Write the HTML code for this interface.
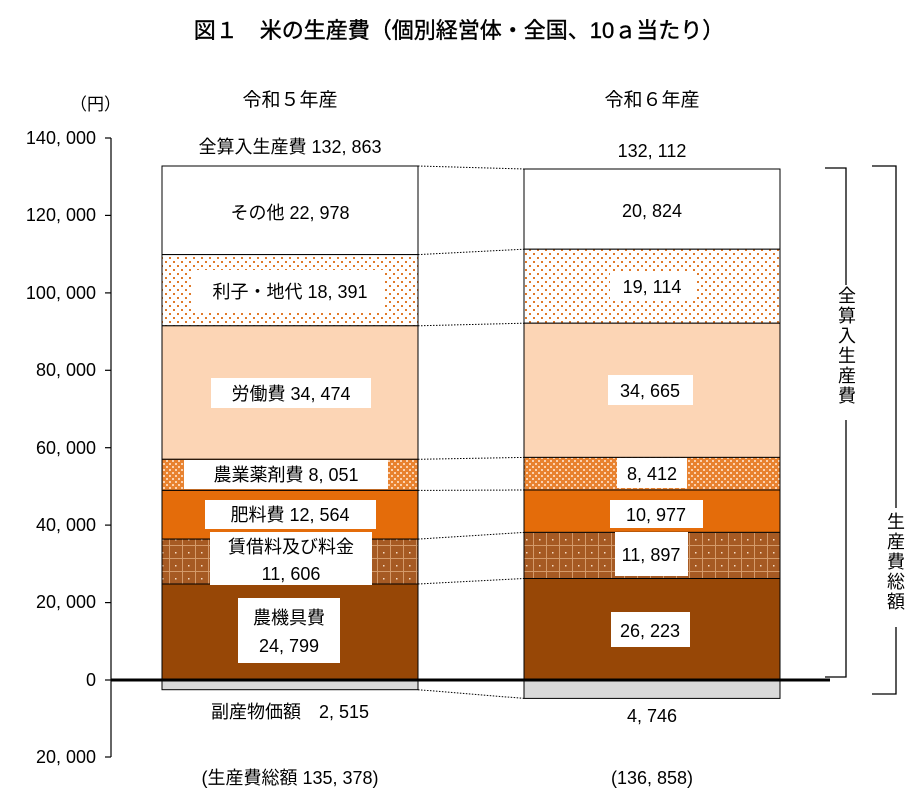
<!DOCTYPE html>
<html><head><meta charset="utf-8"><style>
html,body{margin:0;padding:0;background:#fff;}
svg{display:block;font-family:"Liberation Sans","Noto Sans CJK JP",sans-serif;}
</style></head><body>
<svg width="918" height="793" viewBox="0 0 918 793" xmlns="http://www.w3.org/2000/svg">
<defs>
<pattern id="dots" width="8" height="8" patternUnits="userSpaceOnUse">
<rect width="8" height="8" fill="#fff"/><rect x="1" y="1" width="2" height="2" fill="#e07a2a"/><rect x="5" y="5" width="2" height="2" fill="#e07a2a"/>
</pattern>
<pattern id="chk" width="6" height="6" patternUnits="userSpaceOnUse">
<rect width="6" height="6" fill="#e8822f"/><rect x="1" y="1" width="2" height="2" fill="#fbd2b0"/><rect x="4" y="4" width="2" height="2" fill="#fbd2b0"/>
</pattern>
<pattern id="grid" width="13" height="13" patternUnits="userSpaceOnUse">
<rect width="13" height="13" fill="#a65a23"/><rect x="0" y="0" width="1" height="13" fill="#d49a6a"/><rect x="0" y="12" width="13" height="1" fill="#d49a6a"/><rect x="6" y="6" width="1.5" height="1.5" fill="#f5dcc4"/>
</pattern>
</defs>
<text x="459" y="38" text-anchor="middle" font-size="22" font-weight="normal" fill="#000" stroke="#000" stroke-width="0.4">図１　米の生産費（個別経営体・全国、10ａ当たり）</text>
<text x="70" y="110" font-size="17" fill="#000">（円）</text>
<text x="290" y="106" text-anchor="middle" font-size="19">令和５年産</text>
<text x="652" y="106" text-anchor="middle" font-size="19">令和６年産</text>
<line x1="111" y1="138" x2="111" y2="757" stroke="#000" stroke-width="1.2"/>
<g stroke="#000" stroke-width="1.2">
<line x1="105" y1="138" x2="111" y2="138"/><line x1="105" y1="215.4" x2="111" y2="215.4"/><line x1="105" y1="292.9" x2="111" y2="292.9"/><line x1="105" y1="370.3" x2="111" y2="370.3"/><line x1="105" y1="447.7" x2="111" y2="447.7"/><line x1="105" y1="525.1" x2="111" y2="525.1"/><line x1="105" y1="602.6" x2="111" y2="602.6"/><line x1="105" y1="680" x2="111" y2="680"/><line x1="105" y1="757" x2="111" y2="757"/>
</g>
<g font-size="18" text-anchor="end" fill="#000">
<text x="96" y="144">140, 000</text><text x="96" y="221">120, 000</text><text x="96" y="299">100, 000</text><text x="96" y="376">80, 000</text><text x="96" y="454">60, 000</text><text x="96" y="531">40, 000</text><text x="96" y="608">20, 000</text><text x="96" y="686">0</text><text x="96" y="763">20, 000</text>
</g>
<g stroke="#000" stroke-width="1">
<rect x="162" y="166" width="256" height="88.6" fill="#fff"/>
<rect x="162" y="254.6" width="256" height="71.2" fill="url(#dots)"/>
<rect x="162" y="325.8" width="256" height="133.5" fill="#fcd5b5"/>
<rect x="162" y="459.3" width="256" height="31.1" fill="url(#chk)"/>
<rect x="162" y="490.4" width="256" height="48.7" fill="#e46c0a"/>
<rect x="162" y="539.1" width="256" height="44.9" fill="url(#grid)"/>
<rect x="162" y="584" width="256" height="96" fill="#974706"/>
<rect x="162" y="680" width="256" height="9.7" fill="#d9d9d9"/>
</g>
<g stroke="#000" stroke-width="1">
<rect x="524" y="169" width="256" height="80.2" fill="#fff"/>
<rect x="524" y="249.2" width="256" height="74" fill="url(#dots)"/>
<rect x="524" y="323.2" width="256" height="134.2" fill="#fcd5b5"/>
<rect x="524" y="457.4" width="256" height="32.6" fill="url(#chk)"/>
<rect x="524" y="490" width="256" height="42.4" fill="#e46c0a"/>
<rect x="524" y="532.4" width="256" height="46.1" fill="url(#grid)"/>
<rect x="524" y="578.5" width="256" height="101.5" fill="#974706"/>
<rect x="524" y="680" width="256" height="18.4" fill="#d9d9d9"/>
</g>
<g stroke="#000" stroke-width="1" stroke-dasharray="1.5,1.5">
<line x1="418" y1="166" x2="524" y2="169"/><line x1="418" y1="254.6" x2="524" y2="249.2"/><line x1="418" y1="325.8" x2="524" y2="323.2"/><line x1="418" y1="459.3" x2="524" y2="457.4"/><line x1="418" y1="490.4" x2="524" y2="490"/><line x1="418" y1="539.1" x2="524" y2="532.4"/><line x1="418" y1="584" x2="524" y2="578.5"/><line x1="418" y1="689.7" x2="524" y2="698.4"/>
</g>
<line x1="111" y1="680" x2="830" y2="680" stroke="#000" stroke-width="3"/>
<g fill="#fff">
<rect x="193" y="270" width="190" height="43"/>
<rect x="211" y="378" width="160" height="30"/>
<rect x="184" y="460" width="204" height="29"/>
<rect x="205" y="500" width="171" height="29"/>
<rect x="210" y="532" width="162" height="53"/>
<rect x="238" y="598" width="102" height="65"/>
<rect x="610" y="272" width="85" height="29"/>
<rect x="608" y="375" width="85" height="30"/>
<rect x="617" y="458" width="70" height="30"/>
<rect x="610" y="500" width="93" height="28"/>
<rect x="615" y="532" width="73" height="44"/>
<rect x="611" y="612" width="79" height="35"/>
</g>
<g font-size="18" text-anchor="middle" fill="#000">
<text x="290" y="153">全算入生産費 132, 863</text>
<text x="290" y="219">その他 22, 978</text>
<text x="290" y="298">利子・地代 18, 391</text>
<text x="291" y="400">労働費 34, 474</text>
<text x="286" y="481">農業薬剤費 8, 051</text>
<text x="290" y="521">肥料費 12, 564</text>
<text x="291" y="553">賃借料及び料金</text>
<text x="291" y="580">11, 606</text>
<text x="289" y="624">農機具費</text>
<text x="289" y="652">24, 799</text>
<text x="290" y="718">副産物価額　2, 515</text>
<text x="290" y="784">(生産費総額 135, 378)</text>
<text x="652" y="157">132, 112</text>
<text x="652" y="217">20, 824</text>
<text x="652" y="293">19, 114</text>
<text x="650" y="397">34, 665</text>
<text x="652" y="480">8, 412</text>
<text x="656" y="521">10, 977</text>
<text x="651" y="561">11, 897</text>
<text x="650" y="637">26, 223</text>
<text x="652" y="722">4, 746</text>
<text x="652" y="784">(136, 858)</text>
</g>
<g fill="none" stroke="#000" stroke-width="1.3">
<path d="M825 168 H846 V285 M846 420 V677 H825"/>
<path d="M872 166 H896 V508 M896 627 V694 H872"/>
</g>
<g font-size="18" text-anchor="middle" fill="#000">
<text x="847" y="302">全</text><text x="847" y="322">算</text><text x="847" y="342">入</text><text x="847" y="362">生</text><text x="847" y="382">産</text><text x="847" y="402">費</text>
<text x="896" y="528">生</text><text x="896" y="548">産</text><text x="896" y="568">費</text><text x="896" y="588">総</text><text x="896" y="608">額</text>
</g>
</svg>
</body></html>
